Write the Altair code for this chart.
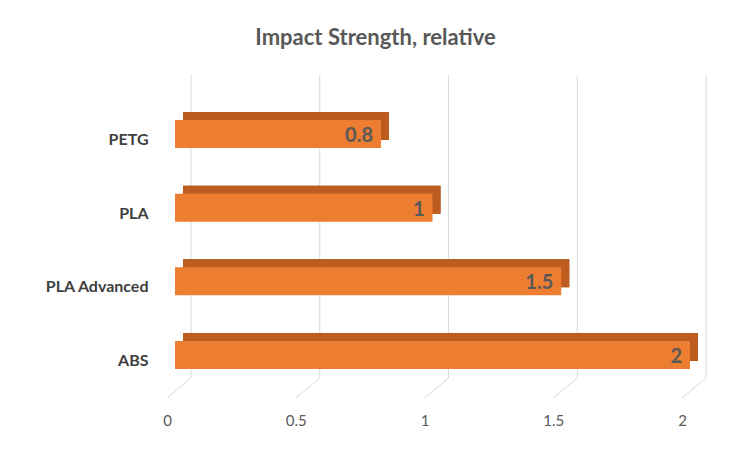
import altair as alt
import pandas as pd

materials = ["PETG", "PLA", "PLA Advanced", "ABS"]
values = [0.8, 1, 1.5, 2]
value_labels = ["0.8", "1", "1.5", "2"]
ticks = [0, 0.5, 1, 1.5, 2]

bars = pd.DataFrame({"material": materials, "value": values, "label": value_labels})
grid = pd.DataFrame({"t": ticks})

xs = alt.Scale(domain=[0, 2], nice=False, zero=True)
ys = alt.Scale(domain=materials, paddingInner=0.62, paddingOuter=0.407)

x_axis = alt.Axis(values=ticks, format="~g", grid=False, domain=False, ticks=False, labelPadding=14,
                  labelOffset=-8, labelFontSize=15, labelColor="#595959", labelFont="Lato",
                  title=None, labelFlush=False)
y_axis = alt.Axis(grid=False, domain=False, ticks=False, labelPadding=27, labelOffset=6,
                  labelFontSize=16, labelFontWeight="bold", labelColor="#404040",
                  labelFont="Lato", title=None)

gridlines = alt.Chart(grid).mark_rule(color="#D9D9D9", strokeWidth=1, xOffset=16).encode(
    x=alt.X("t:Q", scale=xs, axis=x_axis),
    y=alt.value(-15), y2=alt.value(288))

floor = alt.Chart(grid).mark_rule(color="#D9D9D9", strokeWidth=1, xOffset=16, x2Offset=-8).encode(
    x=alt.X("t:Q", scale=xs), x2="t:Q",
    y=alt.value(288), y2=alt.value(308))

side = alt.Chart(bars).mark_bar(color="#9A4815", xOffset=8, x2Offset=8, yOffset=-8).encode(
    x=alt.X("value:Q", scale=xs), y=alt.Y("material:N", scale=ys, axis=y_axis, sort=materials))

top = alt.Chart(bars).mark_bar(color="#BC5C1E", xOffset=8, yOffset=-8).encode(
    x=alt.X("value:Q", scale=xs), y=alt.Y("material:N", scale=ys, sort=materials))

front = alt.Chart(bars).mark_bar(color="#ED7D31").encode(
    x=alt.X("value:Q", scale=xs), y=alt.Y("material:N", scale=ys, sort=materials))

text = alt.Chart(bars).mark_text(align="right", baseline="middle", dx=-8, dy=2,
                                 font="Lato", fontSize=20, fontWeight="bold", color="#595959").encode(
    x=alt.X("value:Q", scale=xs), y=alt.Y("material:N", scale=ys, sort=materials), text="label:N")

chart = alt.layer(gridlines, floor, side, top, front, text).properties(
    width=515, height=309,
    autosize=alt.AutoSizeParams(type="none"),
    padding={"left": 167, "top": 82, "right": 52, "bottom": 44},
    title=alt.TitleParams("Impact Strength, relative", font="Lato", fontSize=22, fontWeight="bold",
                          color="#595959", anchor="middle", dx=-57, offset=25),
).configure(background="white", view=alt.ViewConfig(stroke=None))

chart.save("out.html", embed_options={"renderer": "svg", "actions": False})
